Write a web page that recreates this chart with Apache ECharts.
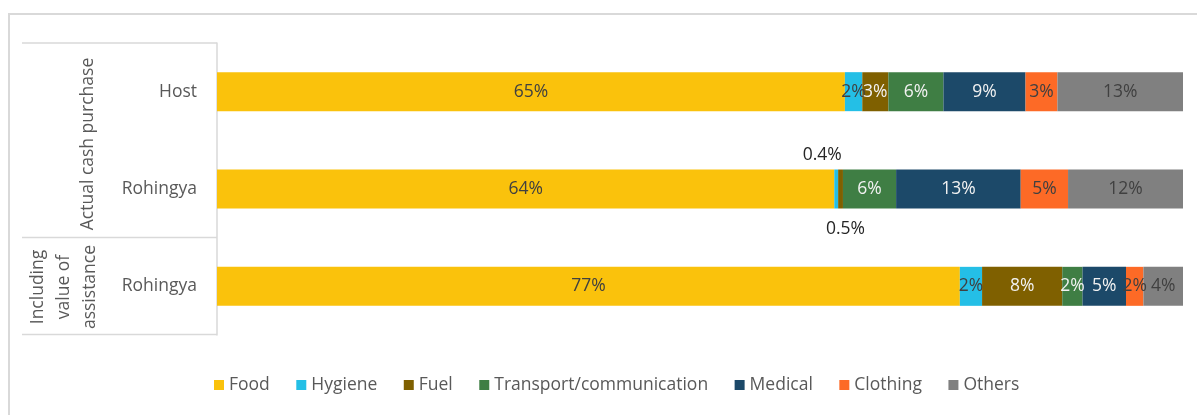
<!DOCTYPE html>
<html><head><meta charset="utf-8">
<script src="https://cdn.jsdelivr.net/npm/echarts@6/dist/echarts.min.js"></script>
<style>html,body{margin:0;padding:0;background:#fff}#c{width:1197px;height:415px}</style>
</head><body><div id="c"></div>
<script>
var categories = ['Host', 'Rohingya', 'Rohingya'];
var groups = ['Actual cash purchase', 'Including\nvalue of\nassistance'];
var seriesNames = ['Food', 'Hygiene', 'Fuel', 'Transport/communication', 'Medical', 'Clothing', 'Others'];
var food      = [65.0, 63.9, 76.9];
var hygiene   = [1.8, 0.4, 2.3];
var fuel      = [2.7, 0.5, 8.3];
var transport = [5.7, 5.5, 2.1];
var medical   = [8.5, 12.9, 4.5];
var clothing  = [3.3, 4.9, 1.8];
var others    = [13.0, 11.9, 4.1];
var colors = ['#FAC20C', '#24BFE6', '#7F6000', '#3F7E44', '#1C4969', '#FD6A26', '#808080'];
var labelColors = ['#404040', '#404040', '#F2F2F2', '#F2F2F2', '#F2F2F2', '#404040', '#404040'];

var values = [food, hygiene, fuel, transport, medical, clothing, others];
var FONT = '"Open Sans", "Noto Sans", sans-serif';
var FS = 17.5;

var chart = echarts.init(document.getElementById('c'));
var series = seriesNames.map(function (name, si) {
  return {
    name: name, type: 'bar', stack: 'total', barWidth: 39,
    itemStyle: { color: colors[si] },
    label: {
      show: true, position: 'inside', color: labelColors[si], fontSize: FS, fontFamily: FONT,
      formatter: function (p) { return Math.round(p.value) + '%'; }
    },
    data: values[si].map(function (v, ci) {
      if (si === 1 && ci === 1) {
        return { value: v, label: { position: 'top', color: '#262626', distance: 5, offset: [-14, 0], formatter: '0.4%' } };
      }
      if (si === 2 && ci === 1) {
        return { value: v, label: { position: 'bottom', color: '#262626', distance: 12, offset: [5, 0], formatter: '0.5%' } };
      }
      return v;
    })
  };
});

var lineStyle = { stroke: '#D9D9D9', lineWidth: 1.5 };
chart.setOption({
  animation: false,
  color: colors,
  textStyle: { fontFamily: FONT },
  grid: { left: 217, right: 14, top: 43, bottom: 80, containLabel: false },
  xAxis: { type: 'value', min: 0, max: 100, show: false },
  yAxis: {
    type: 'category', inverse: true, data: categories,
    axisLine: { show: true, lineStyle: { color: '#D9D9D9', width: 1.5 } },
    axisTick: { show: false },
    axisLabel: { color: '#595959', fontSize: FS, margin: 20, fontFamily: FONT }
  },
  legend: {
    bottom: 16, left: 209, itemWidth: 10, itemHeight: 10, itemGap: 26.5,
    icon: 'rect',
    textStyle: { color: '#595959', fontSize: FS, fontFamily: FONT },
    data: seriesNames
  },
  graphic: [
    { type: 'rect', shape: { x: 9, y: 14, width: 1200, height: 410 }, style: { fill: 'none', stroke: '#D9D9D9', lineWidth: 2 }, silent: true },
    { type: 'line', shape: { x1: 22, y1: 43, x2: 217, y2: 43 }, style: lineStyle },
    { type: 'line', shape: { x1: 22, y1: 237.5, x2: 217, y2: 237.5 }, style: lineStyle },
    { type: 'line', shape: { x1: 22, y1: 334.5, x2: 217, y2: 334.5 }, style: lineStyle },
    { type: 'text', x: 88, y: 144, rotation: Math.PI / 2,
      style: { text: groups[0], fill: '#595959', fontSize: FS, fontFamily: FONT, textAlign: 'center', textVerticalAlign: 'middle' } },
    { type: 'text', x: 64, y: 287, rotation: Math.PI / 2,
      style: { text: groups[1], fill: '#595959', fontSize: FS, fontFamily: FONT, textAlign: 'center', textVerticalAlign: 'middle', lineHeight: 26 } }
  ],
  series: series
});
</script></body></html>
